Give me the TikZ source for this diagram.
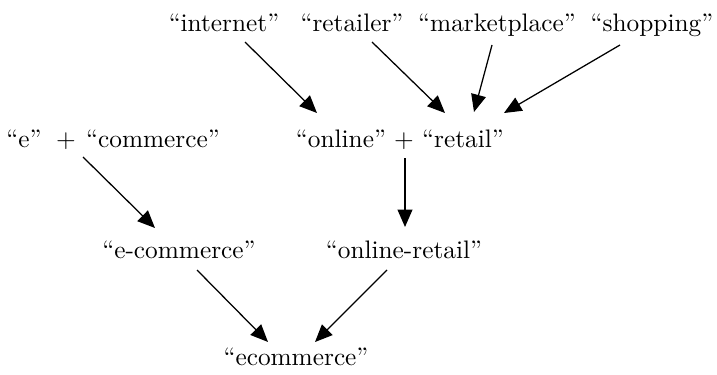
\documentclass[tikz,border=0pt]{standalone}
\usetikzlibrary{arrows.meta}
\begin{document}
\begin{tikzpicture}[x=0.395pt,y=-0.395pt,
  lbl/.style={inner sep=0pt,anchor=base},
  arr/.style={line width=0.5pt,-{Triangle[length=6.9pt,width=5.9pt]}}]
\useasboundingbox (0,0) rectangle (717,374);
% row 1
\node[lbl] (internet) at (224,31) {``internet''};
\node[lbl] (retailer) at (352,31) {``retailer''};
\node[lbl] (market) at (497,31) {``marketplace''};
\node[lbl] (shopping) at (652,31) {``shopping''};
% row 2
\node[lbl] (e) at (24,147) {``e''};
\node[lbl] (plusA) at (66,147) {$+$};
\node[lbl] (commerce) at (153,147) {``commerce''};
\node[lbl] (online) at (341,147) {``online''};
\node[lbl] (plusB) at (404,147) {$+$};
\node[lbl] (retail) at (463,147) {``retail''};
% row 3
\node[lbl] (ecom) at (179,258) {``e-commerce''};
\node[lbl] (olr) at (404,258) {``online-retail''};
% row 4
\node[lbl] (ecommerce) at (296,365) {``ecommerce''};
% arrows
\draw[arr] ([shift={(21,11)}]internet.base) -- ([shift={(-24,-34)}]online.base);
\draw[arr] ([shift={(20,11)}]retailer.base) -- ([shift={(-18,-34)}]retail.base);
\draw[arr] ([shift={(-5,14)}]market.base) -- ([shift={(11,-35)}]retail.base);
\draw[arr] ([shift={(-32,14)}]shopping.base) -- ([shift={(41,-34)}]retail.base);
\draw[arr] ([shift={(17,10)}]plusA.base) -- ([shift={(-24,-30)}]ecom.base);
\draw[arr] ([shift={(1,11)}]plusB.base) -- ([shift={(1,-31)}]olr.base);
\draw[arr] ([shift={(18,12)}]ecom.base) -- ([shift={(-28,-23)}]ecommerce.base);
\draw[arr] ([shift={(-17,12)}]olr.base) -- ([shift={(19,-23)}]ecommerce.base);
\end{tikzpicture}
\end{document}
